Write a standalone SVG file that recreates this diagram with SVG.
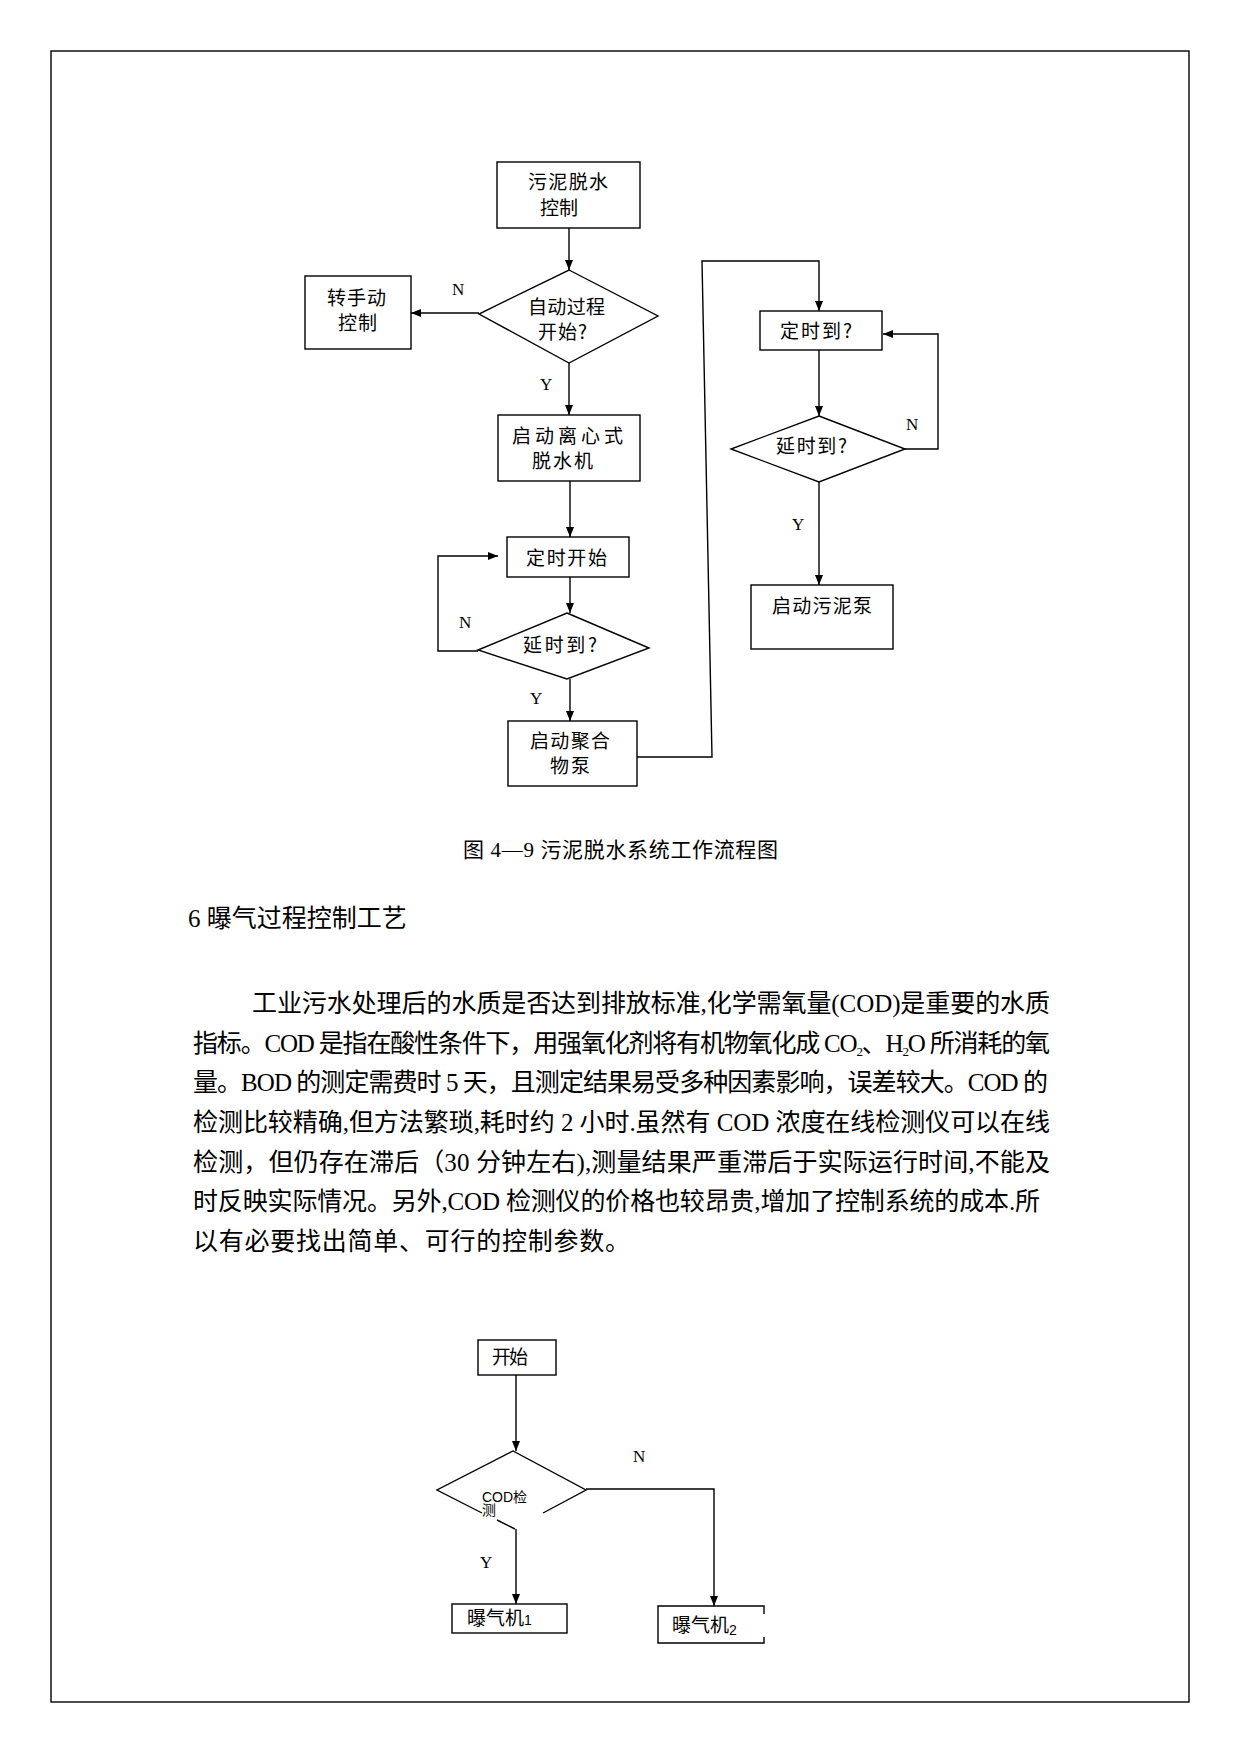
<svg xmlns="http://www.w3.org/2000/svg" width="1241" height="1754" viewBox="0 0 1241 1754">
<defs>
<marker id="ah" markerUnits="userSpaceOnUse" markerWidth="10" markerHeight="8" refX="10" refY="4" orient="auto">
<path d="M0,0 L10,4 L0,8 z" fill="#000"/>
</marker>
<style>
.bx{fill:#fff;stroke:#000;stroke-width:1.4}
.ln{fill:none;stroke:#000;stroke-width:1.4}
.ar{fill:none;stroke:#000;stroke-width:1.4;marker-end:url(#ah)}
.t{font-family:"Noto Sans CJK SC","Liberation Sans",sans-serif;font-size:19px;fill:#000}
.s{font-family:"Liberation Sans","Noto Sans CJK SC",sans-serif;font-size:14px;fill:#000}
.yn{font-family:"Liberation Serif","Noto Sans CJK SC",serif;font-size:17px;fill:#000}
.b{font-family:"Liberation Serif","Noto Sans CJK SC",serif;font-size:25px;fill:#000}
.c{font-family:"Liberation Serif","Noto Sans CJK SC",serif;font-size:21px;fill:#000}
</style>
</defs>
<rect width="1241" height="1754" fill="#fff"/>
<rect x="51" y="51" width="1138" height="1651" fill="none" stroke="#000" stroke-width="1.4"/>

<g id="connectors">
<path class="ar" d="M569,228 V270"/>
<path class="ar" d="M479,313 H411"/>
<path class="ar" d="M569,363 V415"/>
<path class="ar" d="M570,481 V537"/>
<path class="ar" d="M570,577 V613"/>
<path class="ar" d="M478,651 H438 V556 H498"/>
<path class="ar" d="M570,679 V721"/>
<path class="ar" d="M637,757 H712 L702,261 H819 V311"/>
<path class="ar" d="M819,350 V416"/>
<path class="ar" d="M905,449 H938 V334 H883"/>
<path class="ar" d="M819,482 V585"/>
<path class="ar" d="M516,1375 V1451"/>
<path class="ar" d="M516,1529 V1604"/>
<path class="ar" d="M586,1489 H714 V1606"/>
<text class="yn" x="452" y="295">N</text>
<text class="yn" x="540" y="390">Y</text>
<text class="yn" x="459" y="628">N</text>
<text class="yn" x="530" y="704">Y</text>
<text class="yn" x="906" y="430">N</text>
<text class="yn" x="792" y="530">Y</text>
<text class="yn" x="633" y="1462">N</text>
<text class="yn" x="480" y="1568">Y</text>
</g>

<g id="n1">
<rect class="bx" x="497" y="162" width="143" height="66"/>
<text class="t"><tspan x="528" y="189" textLength="80" lengthAdjust="spacing">污泥脱水</tspan><tspan x="540" y="215" textLength="38" lengthAdjust="spacing">控制</tspan></text>
</g>
<g id="n2">
<polygon class="bx" points="569,270 658,316 569,363 479,314"/>
<text class="t"><tspan x="528" y="314" textLength="77" lengthAdjust="spacing">自动过程</tspan><tspan x="538" y="339" textLength="49" lengthAdjust="spacing">开始?</tspan></text>
</g>
<g id="n3">
<rect class="bx" x="305" y="276" width="106" height="73"/>
<text class="t"><tspan x="327" y="305" textLength="59" lengthAdjust="spacing">转手动</tspan><tspan x="338" y="330" textLength="39" lengthAdjust="spacing">控制</tspan></text>
</g>
<g id="n4">
<rect class="bx" x="498" y="415" width="142" height="66"/>
<text class="t"><tspan x="512" y="443" textLength="111" lengthAdjust="spacing">启动离心式</tspan><tspan x="532" y="468" textLength="61" lengthAdjust="spacing">脱水机</tspan></text>
</g>
<g id="n5">
<rect class="bx" x="507" y="537" width="122" height="40"/>
<text class="t" x="526" y="565" textLength="81" lengthAdjust="spacing">定时开始</text>
</g>
<g id="n6">
<polygon class="bx" points="567,613 649,648 567,679 478,650"/>
<text class="t" x="523" y="652" textLength="74" lengthAdjust="spacing">延时到?</text>
</g>
<g id="n7">
<rect class="bx" x="508" y="721" width="129" height="65"/>
<text class="t"><tspan x="530" y="748" textLength="80" lengthAdjust="spacing">启动聚合</tspan><tspan x="550" y="773" textLength="40" lengthAdjust="spacing">物泵</tspan></text>
</g>
<g id="n8">
<rect class="bx" x="760" y="311" width="122" height="39"/>
<text class="t" x="780" y="338" textLength="72" lengthAdjust="spacing">定时到?</text>
</g>
<g id="n9">
<polygon class="bx" points="819,416 905,449 819,482 731,449"/>
<text class="t" x="776" y="453" textLength="71" lengthAdjust="spacing">延时到?</text>
</g>
<g id="n10">
<rect class="bx" x="751" y="585" width="142" height="64"/>
<text class="t" x="772" y="613" textLength="100" lengthAdjust="spacing">启动污泥泵</text>
</g>

<text class="c" x="463" y="857" textLength="315" lengthAdjust="spacing">图 4—9 污泥脱水系统工作流程图</text>
<text class="b" x="188" y="927">6 曝气过程控制工艺</text>
<text class="b" x="252" y="1012" textLength="798" lengthAdjust="spacing">工业污水处理后的水质是否达到排放标准,化学需氧量(COD)是重要的水质</text>
<text class="b" x="193" y="1052" textLength="857" lengthAdjust="spacing">指标。COD 是指在酸性条件下，用强氧化剂将有机物氧化成 CO<tspan font-size="13" dy="4">2</tspan><tspan dy="-4">、H</tspan><tspan font-size="13" dy="4">2</tspan><tspan dy="-4">O 所消耗的氧</tspan></text>
<text class="b" x="193" y="1091" textLength="855" lengthAdjust="spacing">量。BOD 的测定需费时 5 天，且测定结果易受多种因素影响，误差较大。COD 的</text>
<text class="b" x="193" y="1131" textLength="857" lengthAdjust="spacing">检测比较精确,但方法繁琐,耗时约 2 小时.虽然有 COD 浓度在线检测仪可以在线</text>
<text class="b" x="193" y="1171" textLength="857" lengthAdjust="spacing">检测，但仍存在滞后（30 分钟左右),测量结果严重滞后于实际运行时间,不能及</text>
<text class="b" x="193" y="1210" textLength="847" lengthAdjust="spacing">时反映实际情况。另外,COD 检测仪的价格也较昂贵,增加了控制系统的成本.所</text>
<text class="b" x="193" y="1250" textLength="437" lengthAdjust="spacing">以有必要找出简单、可行的控制参数。</text>

<g id="m1">
<rect class="bx" x="478" y="1340" width="78" height="35"/>
<text class="t" x="492" y="1364" textLength="36" lengthAdjust="spacing">开始</text>
</g>
<g id="m2">
<path class="ln" d="M482,1513 L437,1490 L513,1451 L586,1490 L543,1513 M497,1520 L515,1529"/>
<text class="s"><tspan x="482" y="1502">COD检</tspan><tspan x="482" y="1515">测</tspan></text>
</g>
<g id="m3">
<rect class="bx" x="452" y="1604" width="115" height="29"/>
<text class="t" x="467" y="1625">曝气机<tspan class="s" font-size="16">1</tspan></text>
</g>
<g id="m4">
<path class="ln" d="M764,1614 V1606 H658 V1643 H764 V1637"/>
<text class="t" x="672" y="1632">曝气机<tspan class="s" font-size="17" dy="3">2</tspan></text>
</g>
</svg>
